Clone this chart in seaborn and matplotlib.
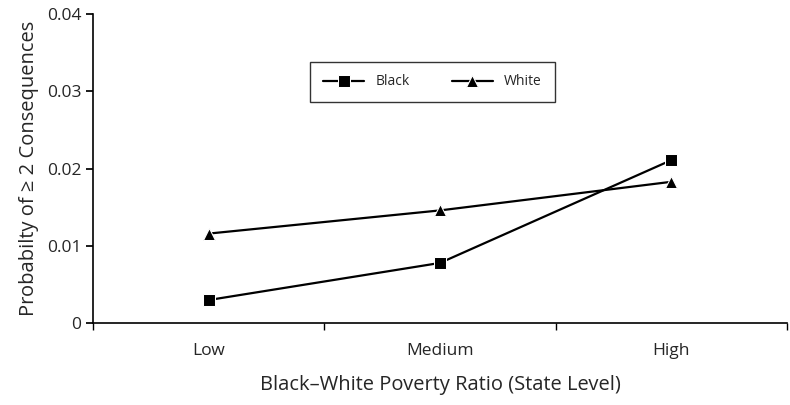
import matplotlib.pyplot as plt
import seaborn as sns
import pandas as pd

categories = ["Low", "Medium", "High"]
black = [0.0030, 0.0078, 0.0211]
white = [0.0116, 0.0146, 0.0183]

df = pd.DataFrame({
    "x": list(range(len(categories))) * 2,
    "value": black + white,
    "group": ["Black"] * 3 + ["White"] * 3,
})

sns.set_theme(style="white")
plt.rcParams["font.family"] = "Open Sans"

fig = plt.figure(figsize=(7.9, 4.05), dpi=100)
ax = fig.add_axes([0.118, 0.202, 0.878, 0.763])

sns.lineplot(data=df, x="x", y="value", hue="group", style="group",
             markers={"Black": "s", "White": "^"}, dashes=False,
             palette={"Black": "black", "White": "black"},
             markersize=9, linewidth=1.6, ax=ax)

ax.set_xlim(-0.5, 2.5)
ax.set_ylim(0, 0.04)
ax.set_xticks(range(len(categories)))
ax.set_xticklabels(categories, fontsize=12.5)
ax.set_xticks([-0.5, 0.5, 1.5, 2.5], minor=True)
ax.tick_params(axis="x", which="major", length=0, pad=14)
ax.tick_params(axis="x", which="minor", length=5, direction="out", color="black", bottom=True)
ax.set_yticks([0, 0.01, 0.02, 0.03, 0.04])
ax.set_yticklabels(["0", "0.01", "0.02", "0.03", "0.04"], fontsize=12.5)
ax.tick_params(axis="y", length=5, direction="out", color="black", left=True)

for side in ["top", "right"]:
    ax.spines[side].set_visible(False)
for side in ["left", "bottom"]:
    ax.spines[side].set_color("black")
    ax.spines[side].set_linewidth(1.2)

ax.set_xlabel("Black\u2013White Poverty Ratio (State Level)", fontsize=14.5, labelpad=12)
ax.set_ylabel("Probabilty of \u2265 2 Consequences", fontsize=14.5, labelpad=6)

leg = ax.legend(title=None, loc="upper left", bbox_to_anchor=(0.303, 0.868),
                ncol=2, fontsize=10, frameon=True, fancybox=False,
                edgecolor="black", borderpad=0.9, columnspacing=3, handlelength=3)
leg.get_frame().set_linewidth(1.0)

fig.savefig("out.png", dpi=100)
